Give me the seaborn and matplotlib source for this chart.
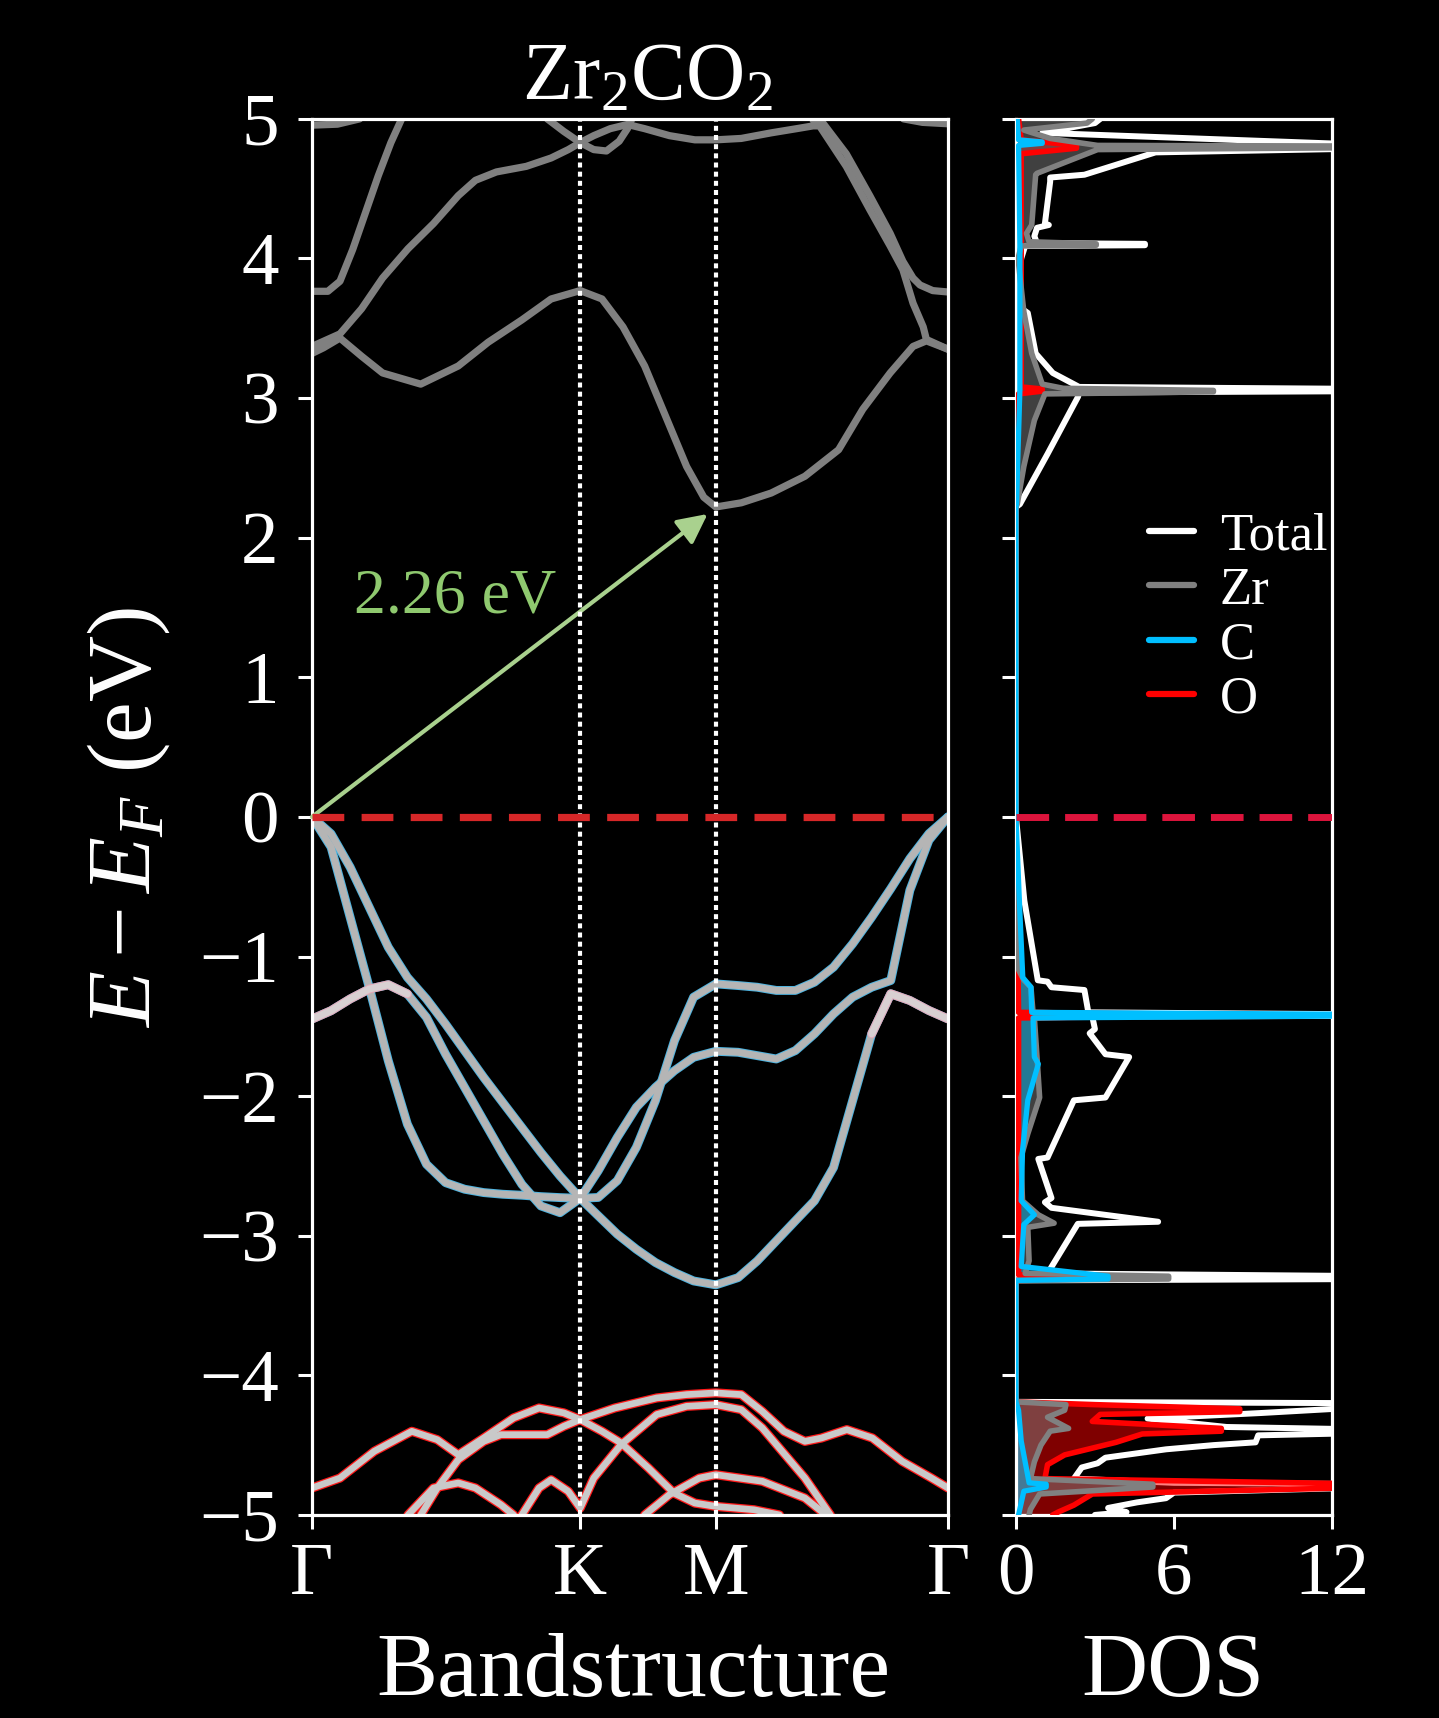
import matplotlib
matplotlib.use("Agg")
import matplotlib.pyplot as plt
import seaborn as sns
from matplotlib.lines import Line2D

# ---------------- data ----------------
k_ticks = [0.0, 0.4217, 0.6350, 1.0]
k_labels = ["Γ", "K", "M", "Γ"]
gap_value = 2.26
title_text = r"Zr$_2$CO$_2$"

k_grid = [0, .03, .06, .09, .12, .15, .18, .21, .24, .27, .30, .33, .36, .39, .4217,
          .45, .48, .51, .54, .57, .60, .635,
          .67, .70, .73, .76, .79, .82, .85, .88, .91, .94, .97, 1.0]

# valence bands (C-dominated)
vb1 = [0, -0.216, -0.719, -1.221, -1.747, -2.201, -2.488, -2.62, -2.667, -2.691, -2.703, -2.71, -2.72, -2.727, -2.732,
       -2.726, -2.606, -2.367, -2.033, -1.602, -1.291, -1.196,
       -1.208, -1.22, -1.243, -1.243, -1.184, -1.076, -0.909, -0.718, -0.514, -0.299, -0.12, 0]
vb2 = [0, -0.121, -0.36, -0.647, -0.934, -1.149, -1.304, -1.484, -1.675, -1.866, -2.046, -2.225, -2.404, -2.572, -2.732,
       -2.857, -2.989, -3.097, -3.192, -3.264, -3.324, -3.352,
       -3.30, -3.181, -3.037, -2.893, -2.75, -2.511, -2.033, -1.554, -1.267, -1.315, -1.387, -1.447]
vb3 = [-1.448, -1.388, -1.304, -1.233, -1.202, -1.268, -1.436, -1.699, -1.938, -2.177, -2.416, -2.632, -2.787, -2.835, -2.732,
       -2.535, -2.296, -2.08, -1.937, -1.817, -1.722, -1.679,
       -1.686, -1.71, -1.734, -1.674, -1.554, -1.411, -1.291, -1.22, -1.172, -0.526, -0.167, 0]

# conduction bands (Zr-dominated)
cb1_k = [0, .018, .044, .078, .111, .171, .230, .277, .330, .376, .4217, .456, .489, .523, .556, .589, .616, .635,
         .675, .722, .775, .828, .866, .909, .945, .966, 1.0]
cb1_e = [3.32, 3.36, 3.43, 3.30, 3.18, 3.10, 3.23, 3.40, 3.56, 3.71, 3.77, 3.71, 3.51, 3.23, 2.87, 2.51, 2.29, 2.22,
         2.25, 2.32, 2.44, 2.63, 2.92, 3.18, 3.37, 3.41, 3.35]
cb2_k = [0, .044, .078, .111, .151, .191, .230, .257, .290, .337, .376, .403, .4217, .443, .469, .496, .523, .562,
         .602, .635, .675, .722, .762, .788, .798, .840, .877, .909, .929, .945, .961, .966, 1.0]
cb2_e = [3.37, 3.46, 3.64, 3.86, 4.07, 4.25, 4.45, 4.56, 4.62, 4.66, 4.72, 4.78, 4.83, 4.88, 4.93, 4.96, 4.93, 4.88,
         4.85, 4.85, 4.86, 4.90, 4.93, 4.95, 4.95, 4.66, 4.35, 4.09, 3.92, 3.68, 3.51, 3.42, 3.35]
cb3_k = [0, .025, .044, .064, .084, .104, .124, .141]
cb3_e = [3.765, 3.765, 3.837, 4.064, 4.327, 4.590, 4.829, 5.0]
cb4_k = [0, .04, .075]
cb4_e = [4.955, 4.962, 5.0]
cb5_k = [.788, .80, .840, .877, .909, .929, .945, .956, .976, 1.0]
cb5_e = [4.99, 4.99, 4.75, 4.45, 4.18, 3.98, 3.86, 3.81, 3.77, 3.76]
cb6_k = [.370, .396, .4217, .443, .463, .483, .496, .503]
cb6_e = [5.0, 4.91, 4.83, 4.78, 4.77, 4.84, 4.93, 5.0]
cb7_k = [.93, .96, 1.0]
cb7_e = [5.0, 4.975, 4.965]

# O-dominated bands
ob1_k = [0, .044, .098, .157, .197, .230, .270, .317, .357, .396, .4217, .456, .486, .529, .569, .602, .635, .695, .735]
ob1_e = [-4.807, -4.736, -4.544, -4.401, -4.461, -4.568, -4.449, -4.305, -4.234, -4.269, -4.317, -4.401, -4.485,
         -4.664, -4.843, -4.915, -4.939, -4.963, -5.0]
ob2_k = [.171, .197, .230, .270, .297, .337, .370, .396, .4217, .476, .542, .589, .635, .675, .708, .742, .775, .801,
         .841, .881, .928, .974, 1.0]
ob2_e = [-5.0, -4.807, -4.604, -4.473, -4.425, -4.425, -4.425, -4.365, -4.317, -4.234, -4.162, -4.138, -4.126,
         -4.138, -4.258, -4.401, -4.473, -4.449, -4.389, -4.449, -4.616, -4.736, -4.807]
ob3_k = [.151, .191, .230, .257, .297, .317]
ob3_e = [-5.0, -4.807, -4.771, -4.807, -4.927, -5.0]
ob4_k = [.330, .357, .376, .403, .4217, .443, .486, .542, .589, .635, .675, .708, .775, .815]
ob4_e = [-5.0, -4.807, -4.748, -4.831, -4.951, -4.736, -4.496, -4.281, -4.222, -4.210, -4.246, -4.377, -4.736, -5.0]
ob5_k = [.523, .562, .609, .635, .708, .775, .808]
ob5_e = [-5.0, -4.855, -4.736, -4.712, -4.759, -4.879, -5.0]

# DOS: (energy, states) pairs
dos_total = [(5.00, 3.2), (4.97, 3.0), (4.90, 1.0), (4.81, 14), (4.79, 14), (4.76, 5.3), (4.60, 2.6), (4.58, 1.3),
             (4.55, 1.3), (4.25, 1.1), (4.24, 1.25), (4.22, 0.8), (4.16, 0.7), (4.11, 0.8), (4.105, 4.9),
             (4.095, 4.9), (4.09, 0.35), (4.00, 0.2), (3.80, 0.1), (3.64, 0.1), (3.63, 0.3), (3.61, 0.45),
             (3.32, 0.75), (3.18, 1.4), (3.08, 2.4), (3.065, 14), (3.05, 14), (3.04, 2.4), (3.01, 2.36),
             (2.60, 1.2), (2.24, 0.15), (2.22, 0.0), (0.00, 0.0), (-0.60, 0.32), (-1.17, 0.83), (-1.18, 1.2),
             (-1.22, 1.35), (-1.24, 2.6), (-1.40, 2.75), (-1.415, 14), (-1.425, 14), (-1.43, 2.9), (-1.52, 3.0),
             (-1.55, 2.8), (-1.70, 3.4), (-1.72, 4.3), (-2.01, 3.4), (-2.03, 2.2), (-2.44, 1.2), (-2.45, 0.85),
             (-2.73, 1.35), (-2.76, 1.1), (-2.80, 1.35), (-2.90, 5.4), (-2.915, 2.35), (-3.27, 1.2),
             (-3.29, 14), (-3.31, 14), (-3.32, 0.0), (-4.19, 0.0), (-4.20, 14), (-4.22, 14), (-4.27, 9.3),
             (-4.31, 5.0), (-4.37, 8.0), (-4.39, 14), (-4.41, 14), (-4.43, 9.2), (-4.48, 9.1), (-4.50, 7.5),
             (-4.53, 5.7), (-4.59, 3.4), (-4.63, 3.1), (-4.66, 2.5), (-4.74, 2.2), (-4.77, 6.0), (-4.78, 14),
             (-4.80, 14), (-4.84, 6.0), (-4.88, 5.7), (-4.91, 4.6), (-4.95, 3.5), (-4.98, 4.2), (-5.00, 3.0)]
dos_zr = [(5.00, 2.9), (4.97, 2.7), (4.92, 0.3), (4.86, 1.3), (4.81, 3.1), (4.805, 14), (4.795, 14), (4.78, 3.1),
          (4.61, 0.8), (4.60, 0.75), (4.24, 0.6), (4.18, 0.4), (4.12, 0.5), (4.105, 3.05), (4.095, 3.05),
          (4.09, 0.2), (4.00, 0.08), (3.62, 0.3), (3.32, 0.6), (3.10, 1.0), (3.07, 1.8), (3.055, 7.5),
          (3.045, 7.5), (3.03, 1.1), (2.84, 0.7), (2.51, 0.3), (2.24, 0.05), (2.22, 0.0), (0.00, 0.0),
          (-1.08, 0.06), (-1.17, 0.3), (-1.22, 0.57), (-1.40, 0.65), (-1.415, 4.4), (-1.425, 4.4),
          (-1.44, 0.7), (-1.72, 0.8), (-2.01, 0.9), (-2.27, 0.45), (-2.44, 0.19), (-2.75, 0.25), (-2.85, 0.85),
          (-2.91, 1.45), (-2.94, 0.45), (-3.18, 0.5), (-3.27, 0.35), (-3.29, 5.8), (-3.31, 5.8), (-3.32, 0.0),
          (-4.19, 0.0), (-4.21, 1.9), (-4.25, 1.85), (-4.30, 1.2), (-4.38, 2.0), (-4.40, 1.3), (-4.50, 0.95),
          (-4.62, 0.7), (-4.74, 0.55), (-4.78, 5.2), (-4.80, 5.2), (-4.85, 0.9), (-4.96, 0.55), (-5.00, 0.5)]
dos_c = [(5.00, 0.05), (4.85, 0.1), (4.835, 1.0), (4.825, 1.0), (4.81, 0.1), (4.10, 0.15), (3.06, 0.15),
         (2.24, 0.02), (2.22, 0.0), (0.00, 0.0), (-0.60, 0.13), (-1.15, 0.26), (-1.22, 0.57), (-1.40, 0.6),
         (-1.415, 14), (-1.425, 14), (-1.44, 0.65), (-1.72, 0.7), (-1.77, 0.85), (-2.03, 0.45), (-2.39, 0.25),
         (-2.75, 0.2), (-2.85, 0.7), (-2.92, 0.3), (-3.22, 0.2), (-3.29, 3.5), (-3.31, 3.5), (-3.32, 0.0),
         (-4.19, 0.0), (-4.25, 0.1), (-4.47, 0.2), (-4.77, 0.5), (-4.78, 1.15), (-4.80, 1.15), (-4.83, 0.3),
         (-5.00, 0.1)]
dos_o = [(5.00, 0.1), (4.85, 0.2), (4.81, 2.3), (4.79, 2.3), (4.75, 0.2), (3.08, 0.2), (3.065, 1.0),
         (3.05, 1.0), (3.03, 0.1), (2.22, 0.0), (0.00, 0.0), (-1.40, 0.1), (-1.415, 7.5), (-1.425, 7.5),
         (-1.44, 0.1), (-3.28, 0.1), (-3.29, 2.5), (-3.31, 2.5), (-3.32, 0.0), (-4.19, 0.0), (-4.21, 3.0),
         (-4.24, 8.5), (-4.26, 8.5), (-4.28, 3.2), (-4.33, 2.9), (-4.38, 7.8), (-4.40, 7.8), (-4.42, 4.8),
         (-4.48, 3.8), (-4.57, 1.85), (-4.64, 1.2), (-4.74, 1.1), (-4.78, 14), (-4.80, 14), (-4.85, 2.9),
         (-4.93, 2.2), (-4.98, 1.6), (-5.00, 1.4)]

dos_ticks = [0, 6, 12]
legend_labels = ["Total", "Zr", "C", "O"]

# ---------------- style ----------------
sns.set_theme(style="ticks")
plt.rcParams.update({
    "font.family": ["Liberation Serif", "DejaVu Serif"],
    "mathtext.fontset": "custom",
    "mathtext.rm": "Liberation Serif",
    "mathtext.it": "Liberation Serif:italic",
    "mathtext.bf": "Liberation Serif:bold",
    "figure.facecolor": "black",
    "axes.facecolor": "black",
    "savefig.facecolor": "black",
    "text.color": "white",
    "axes.labelcolor": "white",
    "xtick.color": "white",
    "ytick.color": "white",
    "axes.edgecolor": "white",
    "axes.unicode_minus": True,
})

fig = plt.figure(figsize=(14.39, 17.18), dpi=100)
ax = fig.add_axes([0.2168, 0.1182, 0.4420, 0.8126])
ax2 = fig.add_axes([0.7060, 0.1182, 0.2196, 0.8126])

C_GRAY = "#808080"
C_BLUE = "#00bfff"
C_RED = "#ff0000"


def line(a, x, y, color, lw, z=2, **kw):
    sns.lineplot(x=x, y=y, ax=a, color=color, lw=lw, sort=False, estimator=None,
                 zorder=z, solid_capstyle="round", solid_joinstyle="round", **kw)


# conduction bands
for kk, ee in [(cb1_k, cb1_e), (cb2_k, cb2_e), (cb3_k, cb3_e), (cb4_k, cb4_e),
               (cb5_k, cb5_e), (cb6_k, cb6_e), (cb7_k, cb7_e)]:
    line(ax, kk, ee, C_GRAY, 5.2)

# valence bands: blue rim + light gray core
for ee in [vb2, vb3, vb1]:
    line(ax, k_grid, ee, "#4fb4e0", 6.4, z=2)
    line(ax, k_grid, ee, "#b5b5b5", 5.0, z=2.1)
# pinkish segments (mixed character)
line(ax, k_grid[:6], vb3[:6], "#e6a8b8", 6.4, z=2.2)
line(ax, k_grid[:6], vb3[:6], "#d8d0d2", 5.0, z=2.3)
line(ax, k_grid[29:], vb2[29:], "#e6a8b8", 6.4, z=2.2)
line(ax, k_grid[29:], vb2[29:], "#d8d0d2", 5.0, z=2.3)

# O bands: red rim + light core
for kk, ee in [(ob1_k, ob1_e), (ob2_k, ob2_e), (ob3_k, ob3_e), (ob4_k, ob4_e), (ob5_k, ob5_e)]:
    line(ax, kk, ee, "#ff1a1a", 6.6, z=2)
    line(ax, kk, ee, "#c9c9c9", 4.8, z=2.1)

# high-symmetry lines
for kx in k_ticks[1:3]:
    ax.axvline(kx, color="white", lw=3.0, ls=(0, (1.2, 1.0)), zorder=5)
# Fermi level
ax.axhline(0, color="#d62728", lw=5.2, dashes=(4.4, 2.4), zorder=6)
ax2.axhline(0, color="crimson", lw=5.0, dashes=(4.7, 2.3), zorder=6)

# gap arrow
ax.annotate("", xy=(0.622, 2.17), xytext=(0.0, 0.0),
            arrowprops=dict(arrowstyle="-|>", color="#a9d18e", lw=3.0,
                            mutation_scale=45, shrinkA=0, shrinkB=0), zorder=4)
ax.text(0.066, 1.57, f"{gap_value:.2f} eV", color="#8fc96f", fontsize=46,
        ha="left", va="center", zorder=4)

ax.set_xlim(0, 1)
ax.set_ylim(-5, 5)
ax.set_xticks(k_ticks)
ax.set_xticklabels(k_labels)
ax.set_yticks(range(-5, 6))
ax.set_xlabel("")
ax.set_ylabel("")

# ---------------- DOS ----------------
def split(pairs):
    return [p[0] for p in pairs], [p[1] for p in pairs]


E_t, D_t = split(dos_total)
E_z, D_z = split(dos_zr)
E_c, D_c = split(dos_c)
E_o, D_o = split(dos_o)

line(ax2, D_t, E_t, "white", 4.3, z=2)
ax2.fill_betweenx(E_o, 0, D_o, color=C_RED, alpha=0.5, lw=0, zorder=2.2)
ax2.fill_betweenx(E_z, 0, D_z, color=C_GRAY, alpha=0.5, lw=0, zorder=2.3)
ax2.fill_betweenx(E_c, 0, D_c, color=C_BLUE, alpha=0.45, lw=0, zorder=2.4)
line(ax2, D_o, E_o, C_RED, 4.0, z=3)
line(ax2, D_z, E_z, C_GRAY, 4.0, z=3.1)
line(ax2, D_c, E_c, C_BLUE, 3.8, z=3.2)

ax2.set_xlim(0, 12)
ax2.set_ylim(-5, 5)
ax2.set_xticks(dos_ticks)
ax2.set_yticks(range(-5, 6))
ax2.tick_params(axis="y", labelleft=False)
ax2.set_xlabel("")
ax2.set_ylabel("")

handles = [Line2D([0], [0], color=c, lw=4.5) for c in ["white", C_GRAY, C_BLUE, C_RED]]
leg = ax2.legend(handles, legend_labels, loc="upper left", bbox_to_anchor=(0.42, 0.718),
                 frameon=False, fontsize=38, handlelength=0.85, handletextpad=0.5,
                 labelspacing=0.12, borderpad=0, borderaxespad=0)
for t in leg.get_texts():
    t.set_color("white")

for a in (ax, ax2):
    for s in a.spines.values():
        s.set_visible(True)
        s.set_color("white")
        s.set_linewidth(2.3)
    a.tick_params(direction="out", length=10, width=2.2, labelsize=54, colors="white")
    a.tick_params(axis="x", pad=10)
    a.tick_params(axis="y", pad=14)
    a.set_facecolor("black")

# text labels
fig.text(0.0896, 0.524, r"$E-E_F$ (eV)", rotation=90, ha="center", va="center", fontsize=66, color="white")
fig.text(0.450, 0.942, title_text, ha="center", va="baseline", fontsize=59, color="white")
fig.text(0.440, 0.002, "Bandstructure", ha="center", va="bottom", fontsize=66, color="white")
fig.text(0.815, 0.002, "DOS", ha="center", va="bottom", fontsize=66, color="white")

fig.savefig("out.png", dpi=100, facecolor="black")
